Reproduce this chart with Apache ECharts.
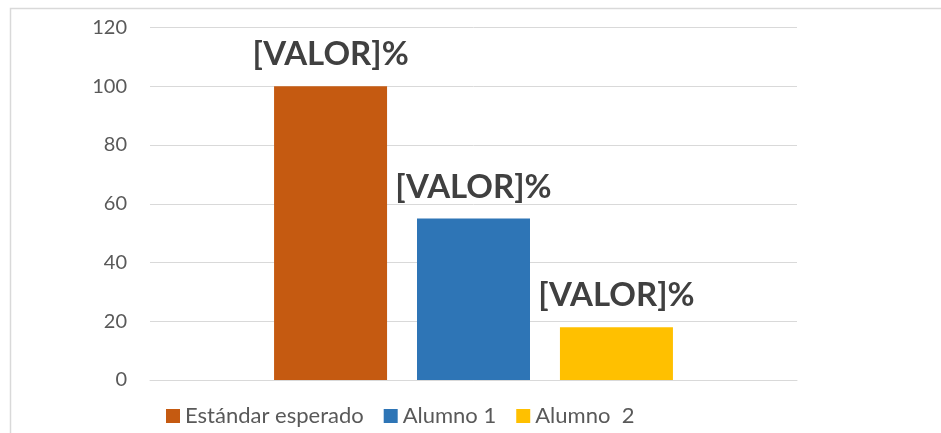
<!DOCTYPE html>
<html><head><meta charset="utf-8">
<script src="https://cdn.jsdelivr.net/npm/echarts@6/dist/echarts.min.js"></script>
<style>html,body{margin:0;padding:0;background:#fff}#c{width:941px;height:433px}</style>
</head><body><div id="c"></div>
<script>
const categories = [''];
const seriesNames = ['Estándar esperado', 'Alumno 1', 'Alumno  2'];
const standardValues = [100];
const alumno1Values = [55];
const alumno2Values = [18];
const yTicks = [0, 20, 40, 60, 80, 100, 120];
const colors = ['#C55A11', '#2E75B6', '#FFC000'];
const labelText = '[VALOR]%';

const allValues = [standardValues, alumno1Values, alumno2Values];
const chart = echarts.init(document.getElementById('c'));
chart.setOption({
  animation: false,
  textStyle: { fontFamily: 'Lato' },
  graphic: [{ type: 'rect', shape: { x: 10.5, y: 8.5, width: 1000, height: 1000 }, style: { fill: 'none', stroke: '#d9d9d9', lineWidth: 1.5 } }],
  legend: {
    top: 400, left: 161, itemWidth: 14, itemHeight: 14, itemGap: 20,
    icon: 'rect',
    textStyle: { fontSize: 22, color: '#595959', fontFamily: 'Lato', padding: [0, 0, 0, 0] },
    data: seriesNames
  },
  grid: { left: 150, right: 144, top: 27.5, bottom: 53 },
  xAxis: {
    type: 'category', data: categories,
    axisLine: { lineStyle: { color: '#d9d9d9', width: 1 } },
    axisTick: { show: false }, axisLabel: { show: false }
  },
  yAxis: {
    type: 'value', min: yTicks[0], max: yTicks[yTicks.length - 1], interval: 20,
    axisLine: { show: false }, axisTick: { show: false },
    axisLabel: { fontSize: 20, color: '#595959', margin: 23, fontFamily: 'Lato' },
    splitLine: { lineStyle: { color: '#d9d9d9', width: 1 } }
  },
  series: seriesNames.map((n, i) => ({
    name: n, type: 'bar', data: allValues[i], barWidth: 113, barGap: '26.5%',
    itemStyle: { color: colors[i] },
    label: {
      show: true, position: 'top', distance: 15, formatter: labelText,
      fontSize: 33, fontWeight: 'bold', color: '#404040', fontFamily: 'Lato'
    }
  }))
});
</script></body></html>
